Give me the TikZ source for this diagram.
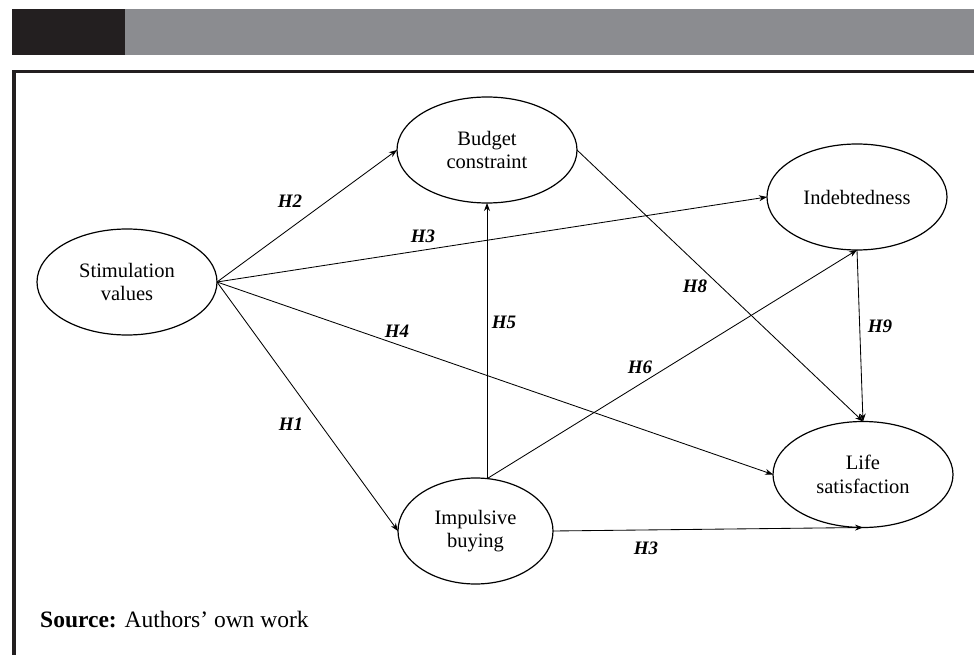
\documentclass[tikz,border=0pt]{standalone}
\usepackage{fontspec}
\setmainfont{Liberation Serif}
\usetikzlibrary{shapes.geometric,arrows.meta}
\definecolor{darkbar}{HTML}{231F20}
\definecolor{graybar}{HTML}{8B8C90}
\tikzset{
  construct/.style={ellipse,draw,line width=1.2pt,minimum width=180pt,minimum height=106pt,inner sep=0pt,outer sep=0pt,align=center,font=\fontsize{20.5}{23.5}\selectfont},
  arr/.style={line width=0.85pt,-{Stealth[length=8pt,width=6pt]}},
  hyp/.style={font=\fontsize{19}{21}\selectfont\bfseries\itshape,inner sep=0pt}
}
\begin{document}
\begin{tikzpicture}[x=1pt,y=-1pt]
\useasboundingbox (0,0) rectangle (974,655);
% header bars
\fill[darkbar] (12,9) rectangle (125,55);
\fill[graybar] (125,9) rectangle (974,55);
% frame
\fill[darkbar] (12,70) rectangle (974,73.5);
\fill[darkbar] (12,70) rectangle (16,655);
% constructs
\node[construct] (stim) at (127,282) {Stimulation\\values};
\node[construct] (budget) at (487,150) {Budget\\constraint};
\node[construct] (indebt) at (857,197) {Indebtedness};
\node[construct,minimum width=155pt] (imp) at (475.5,531) {Impulsive\\buying};
\node[construct] (life) at (863,474.5) {Life\\satisfaction};
\coordinate (impt) at (487,478.7);
% connectors
\draw[arr] (stim.east) -- (budget.west);
\draw[arr] (stim.east) -- (indebt.west);
\draw[arr] (stim.east) -- (life.west);
\draw[arr] (stim.east) -- (imp.west);
\draw[arr] (impt) -- (budget.south);
\draw[arr] (impt) -- (indebt.south);
\draw[arr] (imp.east) -- (life.south);
\draw[arr] (budget.east) -- (life.north);
\draw[arr] (indebt.south) -- (life.north);
% labels
\node[hyp] (h2) at (290,201) {H2};
\node[hyp] (h3a) at (423,236) {H3};
\node[hyp] (h4) at (397,331) {H4};
\node[hyp] (h1) at (291,424) {H1};
\node[hyp] (h5) at (504,322) {H5};
\node[hyp] (h6) at (640,367) {H6};
\node[hyp] (h8) at (695,286) {H8};
\node[hyp] (h9) at (880,326) {H9};
\node[hyp] (h3b) at (646,548) {H3};
% source
\node[anchor=base west,inner sep=0pt,font=\fontsize{23.5}{26}\selectfont] (src) at (40,627) {\textbf{Source:} Authors’ own work};
\end{tikzpicture}
\end{document}
